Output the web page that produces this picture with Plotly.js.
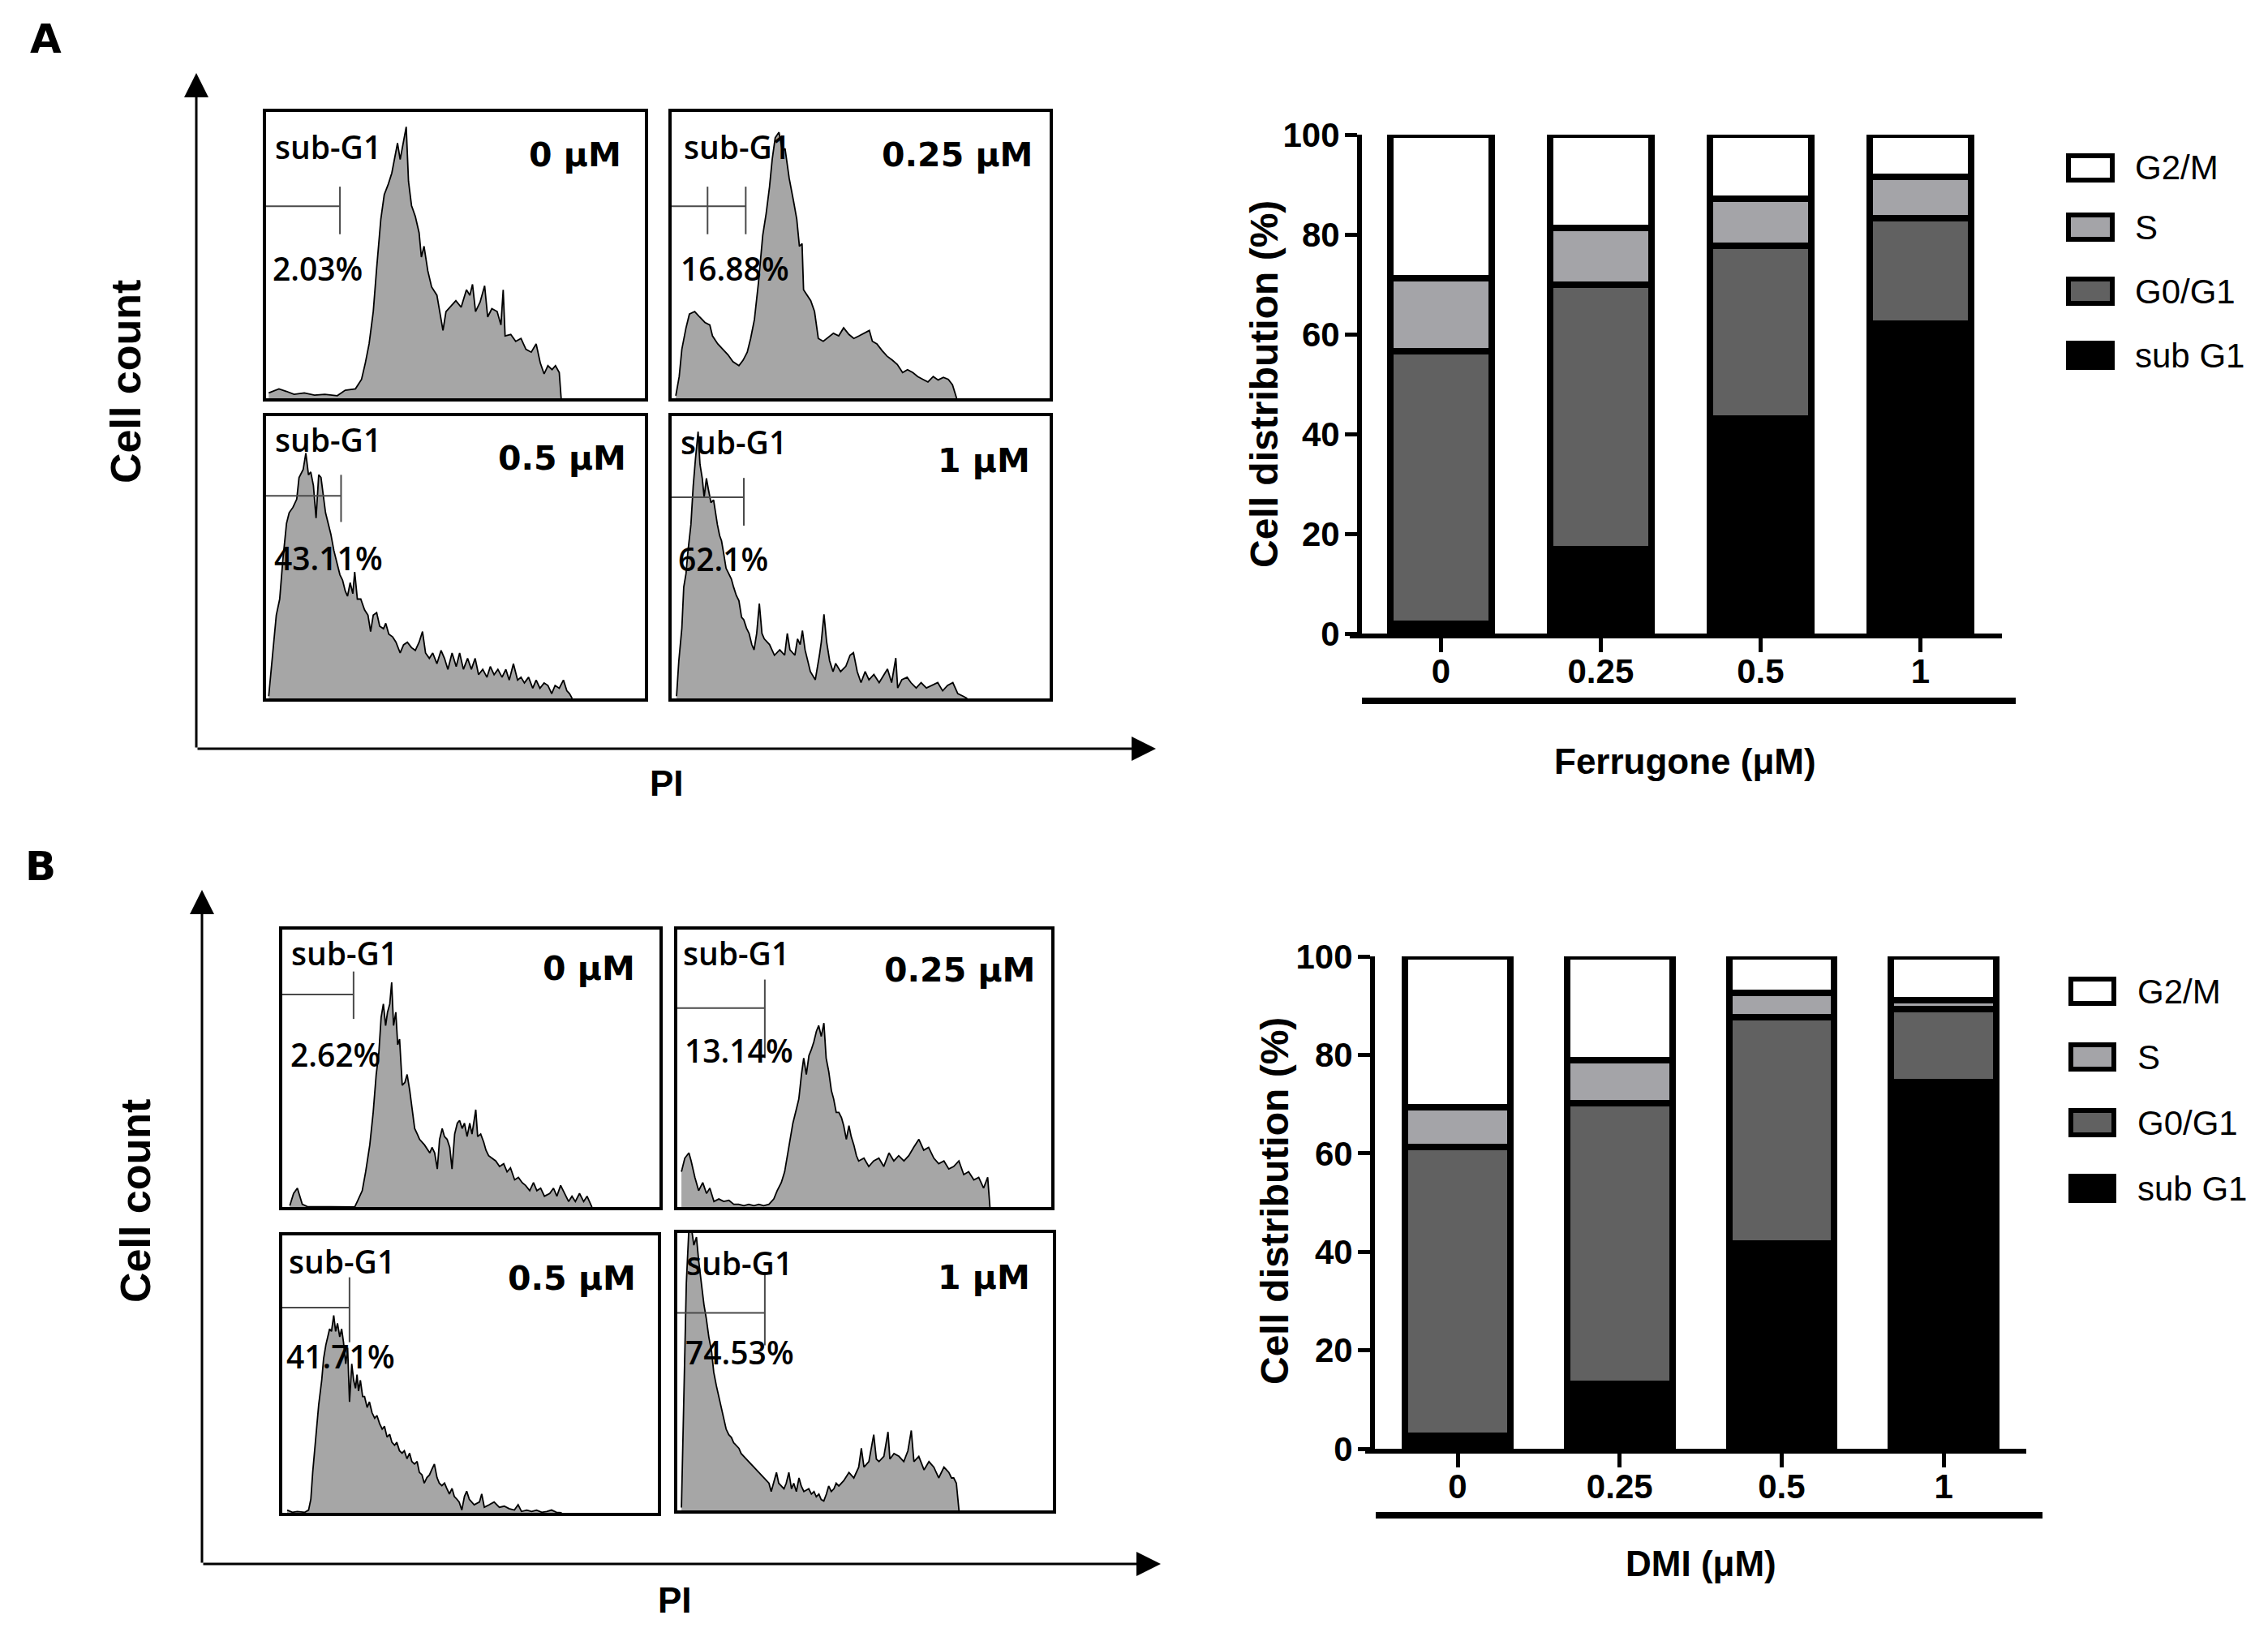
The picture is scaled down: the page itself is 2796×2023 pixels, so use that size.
<!DOCTYPE html>
<html>
<head>
<meta charset="utf-8">
<script src="https://cdn.plot.ly/plotly-3.0.1.min.js"></script>
<style>html,body{margin:0;padding:0;background:#fff;}#chart{width:2796px;height:2023px;}</style>
</head>
<body>
<div id="chart"></div>
<script>
// ---------- DATA ----------
// Flow-cytometry histograms (x: PI channel, 0-100 of the frame; y: cell count, 0-100 of the frame)
const ferr0X = [0.7,3.4,5.4,7.4,10.1,12.8,15.5,18.8,20.9,23.6,25.2,26.2,27.2,28.3,29.2,30.3,31.2,32.3,33.2,34.1,34.7,35.4,36.1,37.0,37.6,38.4,39.4,40.4,41.0,41.7,42.7,43.7,45.1,46.0,46.7,47.5,48.7,50.1,51.5,52.9,53.8,54.5,55.3,56.5,57.7,58.5,59.6,61.0,62.0,62.6,63.1,64.6,65.9,67.3,68.6,70.0,71.3,72.4,73.4,74.4,75.5,76.4,77.4,77.9];
const ferr0Y = [1.9,3.3,2.4,1.4,1.9,1.1,1.4,0.9,2.8,3.3,6.6,12.3,19.0,30.3,45.5,62.6,71.1,74.9,78.7,84.4,89.1,83.4,88.2,94.8,75.8,67.3,63.5,57.8,49.3,53.1,44.5,38.9,36.0,28.4,23.7,30.3,32.2,34.1,31.8,37.9,36.0,39.8,30.3,33.6,39.3,28.4,31.3,30.3,25.6,37.9,21.8,22.3,19.9,20.9,17.1,16.1,19.0,12.3,8.5,11.4,10.0,11.4,9.0,0];
const ferr25X = [1.1,2.0,2.7,3.8,4.7,6.1,7.4,8.8,10.1,10.8,12.2,13.5,14.9,16.2,17.8,18.9,20.0,20.9,21.9,23.0,24.1,25.0,25.9,26.6,27.4,28.4,29.3,30.0,31.1,32.2,33.1,33.8,34.5,34.9,35.8,36.8,37.8,38.8,40.1,41.5,42.8,44.2,45.5,46.9,48.2,49.6,50.9,52.3,53.1,54.3,55.7,57.0,58.4,59.7,61.1,62.4,63.8,65.1,66.5,67.8,69.2,70.5,71.9,73.2,74.3,75.4];
const ferr25Y = [0.9,7.6,17.1,24.6,29.4,30.3,28.4,26.5,25.6,21.8,19.0,17.1,15.2,12.8,11.4,13.3,16.1,20.9,27.5,40.8,56.9,64.5,73.9,83.4,91.0,92.9,86.3,87.2,76.8,69.2,62.6,53.1,54.0,37.9,36.0,34.1,30.3,20.9,19.9,21.3,22.7,21.8,24.6,22.3,20.9,21.8,22.7,23.7,19.9,19.0,16.6,14.7,13.3,11.8,9.0,10.0,9.0,7.6,6.6,5.7,7.6,6.4,7.3,6.6,4.7,0];
const ferr50X = [0.7,1.7,2.7,3.6,4.4,5.4,6.1,7.1,8.1,8.7,9.8,10.5,11.2,11.8,12.5,13.2,13.9,14.5,15.2,15.7,16.4,17.1,17.9,18.8,19.5,20.2,20.9,21.5,22.2,22.9,23.4,24.1,25.0,26.0,26.9,27.6,28.3,29.2,30.0,31.0,31.6,32.4,33.4,34.3,35.4,36.3,37.3,38.4,39.4,40.4,41.3,42.1,43.1,44.0,45.1,46.2,47.1,48.0,49.1,50.2,51.1,52.1,53.2,54.2,55.2,56.1,57.2,58.3,59.2,60.2,61.2,62.3,63.3,64.2,65.3,66.4,67.3,68.2,69.3,70.4,71.3,72.3,73.4,74.4,75.4,76.3,77.4,78.5,79.4,80.1,80.8];
const ferr50Y = [0.8,16.1,29.5,35.2,48.6,62.0,65.8,67.7,70.6,78.2,81.1,86.9,79.2,80.2,75.4,63.9,79.2,78.3,70.6,65.8,62.0,58.2,52.4,47.6,43.8,41.9,38.1,36.2,41.0,37.1,44.8,35.2,35.2,31.4,29.5,23.7,29.5,30.4,25.6,24.7,26.6,22.8,21.8,19.9,16.1,19.0,19.9,18.0,17.0,19.9,23.7,16.1,14.2,16.1,12.3,17.0,14.2,10.3,16.1,11.3,16.1,10.3,14.2,10.3,14.2,8.4,10.3,7.5,11.3,8.4,10.3,7.5,10.3,6.5,12.3,6.5,7.5,5.5,7.5,3.6,6.5,3.6,5.5,4.6,1.7,4.6,3.6,6.5,2.7,1.7,0];
const ferr100X = [1.3,1.9,2.7,3.2,3.8,4.3,5.1,5.7,6.3,7.0,7.5,8.1,8.6,9.2,9.7,10.4,11.1,11.6,12.1,12.7,13.2,13.7,14.4,15.1,15.8,16.4,17.1,17.8,18.5,19.1,19.8,20.5,21.2,21.8,22.5,23.2,23.9,24.5,25.9,27.2,28.6,29.9,30.6,31.3,32.6,33.3,34.0,34.6,35.3,36.7,38.0,39.1,39.6,40.3,41.0,41.8,42.7,43.4,44.7,46.1,47.2,48.1,49.1,50.1,51.2,52.2,53.5,54.9,56.2,57.1,58.2,59.3,59.8,60.9,62.3,63.3,64.7,66.0,67.4,69.0,70.4,71.7,73.0,74.4,75.7,77.1,78.2];
const ferr100Y = [0.8,13.3,24.9,39.4,44.2,51.9,61.6,75.1,84.8,94.5,82.9,78.0,71.3,78.0,74.2,69.4,70.3,65.5,61.6,57.7,55.8,51.9,46.1,44.2,42.3,39.4,36.5,34.6,28.8,27.8,24.9,23.0,19.1,17.2,23.0,33.6,23.0,21.1,19.1,15.3,17.2,15.3,23.0,17.2,15.3,21.1,19.1,24.0,17.2,9.5,6.6,15.3,20.1,29.8,20.1,13.3,9.5,12.4,9.5,11.4,15.3,16.2,9.5,5.6,9.5,6.6,8.5,5.6,8.5,10.4,5.6,14.3,3.7,6.6,7.5,5.6,3.7,5.6,3.7,4.6,5.6,2.7,4.6,5.6,1.7,0.8,0];
const dmi0X = [2.0,3.0,4.0,4.6,5.3,6.6,12.6,19.2,19.9,21.2,22.1,23.2,24.1,24.9,25.6,26.2,26.8,27.4,27.9,28.5,29.0,29.5,30.1,30.6,31.1,31.8,32.5,33.1,33.8,34.4,35.1,35.8,36.4,37.7,39.1,39.7,40.4,41.1,41.7,42.4,43.0,43.7,44.4,45.0,45.7,46.4,47.0,47.7,48.3,49.0,49.7,50.3,51.3,51.8,52.6,53.4,54.0,54.7,55.6,56.6,57.6,58.7,59.6,60.5,61.6,62.6,63.6,64.5,65.6,66.6,67.5,68.5,69.5,70.9,71.9,72.8,73.8,74.8,75.9,76.8,77.7,78.8,79.9,80.8,81.5,82.1];
const dmi0Y = [0.5,4.9,6.8,3.9,1.0,0.2,0,0,2.0,5.9,12.7,22.4,34.1,47.8,55.6,68.3,73.2,65.4,70.2,73.2,81.0,65.4,70.2,58.5,60.5,43.9,44.9,47.8,41.9,35.1,28.3,26.3,24.4,22.4,19.5,21.5,19.5,13.7,24.4,28.3,25.4,24.4,21.5,13.7,26.3,30.2,31.2,28.3,30.2,25.4,30.2,26.3,35.1,25.4,26.3,23.4,20.5,18.5,17.6,16.6,14.6,15.6,12.7,14.1,9.8,10.7,8.8,7.8,5.9,8.8,5.9,6.8,3.9,4.9,6.8,3.9,7.8,4.9,2.0,3.9,2.0,4.9,2.0,3.9,2.0,0];
const dmi25X = [1.1,2.0,3.1,3.7,4.7,5.7,6.8,7.8,8.7,9.8,11.1,12.4,13.8,15.1,16.4,17.8,19.1,20.5,21.8,23.1,24.5,25.8,26.7,27.8,28.7,29.8,30.9,31.8,32.5,33.2,33.8,34.5,35.2,35.8,36.5,37.2,37.8,38.5,39.2,39.8,40.5,41.2,41.8,42.5,43.2,43.9,44.5,45.2,45.9,46.5,47.2,47.9,48.5,49.9,51.2,52.5,53.9,55.2,56.6,57.9,59.2,60.6,61.9,63.2,64.6,65.9,67.2,68.6,69.9,71.3,72.6,73.9,75.3,76.6,77.9,79.3,80.6,81.9,83.0,83.6];
const dmi25Y = [12.7,17.6,19.5,16.6,10.7,5.9,8.8,4.9,6.8,2.0,2.9,2.0,2.4,1.0,1.0,0.5,1.0,0.5,1.0,0.5,1.0,2.9,5.9,8.8,12.7,21.5,30.2,35.1,39.0,47.8,53.7,47.8,54.6,56.6,59.5,63.4,65.4,61.5,66.3,53.7,48.8,42.0,39.0,34.1,34.1,32.2,29.3,24.4,29.3,25.4,22.4,18.5,16.6,17.6,14.6,16.6,17.6,14.6,19.5,16.6,18.5,16.6,18.5,21.5,24.4,20.5,21.5,17.6,15.6,16.6,13.7,14.6,16.6,11.7,12.7,9.8,10.7,6.8,10.7,0];
const dmi50X = [1.3,2.7,4.0,6.0,7.0,7.6,8.1,8.9,9.7,10.5,11.0,11.6,12.1,12.6,13.1,13.7,14.2,14.7,15.3,15.8,16.3,16.9,17.4,17.9,18.5,19.0,19.5,19.9,20.3,20.8,21.4,21.9,22.6,23.2,23.9,24.6,25.2,25.9,26.6,27.2,27.9,28.6,29.2,29.9,30.5,31.2,31.9,32.5,33.2,33.9,34.5,35.2,35.9,36.5,37.2,37.8,38.5,39.2,39.8,40.5,41.2,41.8,42.5,43.2,43.8,44.5,45.2,45.8,46.5,47.1,47.8,48.5,49.1,49.8,51.1,52.5,53.1,53.8,55.1,56.4,57.8,59.1,60.4,61.8,62.8,63.7,65.1,66.4,67.7,69.1,70.4,71.7,73.0,74.4];
const dmi50Y = [1.0,0.2,0.5,0.2,1.0,4.9,14.6,26.3,39.0,47.8,55.6,60.5,63.4,66.3,65.4,71.2,65.4,68.3,63.4,66.3,61.5,53.7,59.5,40.0,53.7,47.8,44.9,49.8,43.9,47.8,41.9,41.9,38.0,40.0,36.1,34.1,35.1,32.2,30.2,31.2,27.3,28.3,25.4,24.4,25.4,22.4,21.5,22.4,19.5,21.5,18.5,17.6,18.5,14.6,13.7,10.7,12.7,13.7,15.6,17.6,12.7,10.7,9.8,10.7,8.8,6.8,8.8,5.9,4.9,3.9,1.0,5.9,7.8,4.9,2.9,3.9,6.8,2.0,2.9,3.9,2.0,2.4,1.5,1.0,2.9,0.5,1.0,0.5,1.0,0.2,0.5,1.0,0.2,0];
const dmi100X = [1.1,1.7,2.4,3.1,3.9,4.4,5.1,5.7,6.4,7.1,7.7,8.4,9.1,9.7,10.4,11.1,11.7,12.4,13.0,13.7,14.4,15.0,15.7,16.4,17.0,17.7,18.4,19.0,19.7,20.4,21.0,21.7,22.4,23.0,23.7,24.4,25.0,25.7,26.4,27.0,27.7,28.4,29.0,29.7,30.4,31.0,31.7,32.4,33.0,33.7,35.0,35.7,36.4,37.0,37.7,38.3,39.0,39.7,40.3,41.0,41.7,42.3,43.0,44.3,45.7,47.0,48.3,49.0,49.7,51.0,52.3,53.0,53.7,55.0,56.1,56.6,57.7,59.0,60.3,61.4,62.3,63.0,64.3,65.7,67.0,68.3,69.6,71.0,72.3,73.0,73.6,74.3,75.0];
const dmi100Y = [1.0,42.9,81.9,102,100.5,95.6,98.5,89.8,81.9,74.1,69.3,62.4,57.6,49.8,44.9,40.9,37.1,33.2,29.3,27.3,26.3,24.4,23.4,22.4,20.5,19.5,18.5,17.6,16.6,15.6,14.6,13.7,12.7,11.7,10.7,9.8,6.8,10.7,13.7,9.8,8.8,7.8,9.8,13.7,7.8,9.8,6.8,11.7,8.8,6.8,7.8,5.9,6.8,4.9,5.9,3.9,3.4,5.9,8.8,6.8,7.8,9.8,8.8,10.7,13.7,11.7,15.6,22.4,15.6,17.6,27.3,18.5,17.6,19.5,28.3,18.5,20.5,19.5,17.6,21.5,28.8,17.6,19.5,14.6,17.6,15.6,11.7,15.6,13.7,11.7,11.7,9.8,0];

// sub-G1 gate markers (frame units)
const gateEndX = [19.5, 19.6, 19.8, 19.1, 18.9, 23.4, 17.9, 23.3];
const gateLevel = [67.1, 67.1, 71.8, 71.3, 76.6, 71.7, 74.0, 71.2];
const gateTop = [73.9, 73.9, 79.2, 78.1, 84.9, 82.0, 84.9, 84.9];
const gateBottom = [57.3, 57.3, 62.5, 61.2, 67.8, 53.7, 61.5, 59.5];
const gateMidX = [null, 9.5, null, null, null, null, null, null];

// labels in each histogram
const doseText = ['0 µM', '0.25 µM', '0.5 µM', '1 µM', '0 µM', '0.25 µM', '0.5 µM', '1 µM'];
const subG1Pct = ['2.03%', '16.88%', '43.11%', '62.1%', '2.62%', '13.14%', '41.71%', '74.53%'];

// Stacked bar charts
const doseLabels = ['0', '0.25', '0.5', '1'];
const phaseNames = ['sub G1', 'G0/G1', 'S', 'G2/M'];
const phaseColors = ['#000000', '#616161', '#a4a4a8', '#ffffff'];
const ferrSubG1 = [2.03, 16.88, 43.11, 62.1];
const ferrG0G1 = [54.5, 53.0, 34.6, 21.1];
const ferrS = [14.7, 11.5, 9.4, 8.4];
const ferrG2M = [28.77, 18.62, 12.89, 8.4];
const dmiSubG1 = [2.62, 13.14, 41.71, 74.53];
const dmiG0G1 = [58.6, 57.1, 46.0, 14.7];
const dmiS = [8.1, 8.6, 4.9, 1.8];
const dmiG2M = [30.68, 21.16, 7.39, 8.97];

// ---------- LAYOUT HELPERS ----------
const W = 2796, H = 2023;
const px = v => v / W;
const py = v => 1 - v / H;
const ARIAL = 'Liberation Sans, Arial, sans-serif';
const HFONT = 'DejaVu Sans, Verdana, sans-serif';
const LFONT = 'Open Sans, DejaVu Sans, sans-serif';

const histXs = [ferr0X, ferr25X, ferr50X, ferr100X, dmi0X, dmi25X, dmi50X, dmi100X];
const histYs = [ferr0Y, ferr25Y, ferr50Y, ferr100Y, dmi0Y, dmi25Y, dmi50Y, dmi100Y];
// frame boxes in pixels [left, right, top, bottom]
const boxes = [
  [328, 795, 138, 491], [828, 1294, 138, 491],
  [328, 795, 513, 861], [828, 1294, 513, 861],
  [348, 813, 1146, 1488], [835, 1296, 1146, 1488],
  [348, 811, 1523, 1865], [835, 1298, 1520, 1862]
];
const subPos = [[2,88],[2.7,88],[2,91.7],[1.9,91],[2,91.7],[1.1,91.7],[1.3,90.7],[2,89.3]];
const dosePos = [[94.2,85],[96,85],[95.6,85],[95.3,84.3],[94,85.9],[96,85.4],[94.7,84.4],[94.3,83.9]];
const pctPos = [[1.3,45.5],[2,45.5],[1.8,50],[1.3,49.6],[1.7,55.1],[1.5,56.6],[0.7,56.6],[1.7,57.1]];

const data = [];
const layout = {
  width: W, height: H,
  margin: {l: 0, r: 0, t: 0, b: 0},
  paper_bgcolor: '#ffffff', plot_bgcolor: 'rgba(0,0,0,0)',
  showlegend: false,
  annotations: [], shapes: []
};

for (let i = 0; i < 8; i++) {
  const n = i + 1;
  const xr = n === 1 ? 'x' : 'x' + n;
  const yr = n === 1 ? 'y' : 'y' + n;
  const b = boxes[i];
  layout[n === 1 ? 'xaxis' : 'xaxis' + n] = {
    domain: [px(b[0]), px(b[1])], range: [0, 100], anchor: yr,
    showgrid: false, zeroline: false, showticklabels: false, ticks: '',
    showline: true, mirror: true, linecolor: '#000', linewidth: 4, fixedrange: true
  };
  layout[n === 1 ? 'yaxis' : 'yaxis' + n] = {
    domain: [py(b[3]), py(b[2])], range: [0, 100], anchor: xr,
    showgrid: false, zeroline: false, showticklabels: false, ticks: '',
    showline: true, mirror: true, linecolor: '#000', linewidth: 4, fixedrange: true
  };
  data.push({
    type: 'scatter', mode: 'lines', x: histXs[i], y: histYs[i], xaxis: xr, yaxis: yr,
    fill: 'tozeroy', fillcolor: '#a6a6a6', line: {color: '#000', width: 1.8},
    hoverinfo: 'skip'
  });
  const gx = [0, gateEndX[i], null, gateEndX[i], gateEndX[i]];
  const gy = [gateLevel[i], gateLevel[i], null, gateTop[i], gateBottom[i]];
  if (gateMidX[i] !== null) { gx.push(null, gateMidX[i], gateMidX[i]); gy.push(null, gateTop[i], gateBottom[i]); }
  data.push({
    type: 'scatter', mode: 'lines', x: gx, y: gy, xaxis: xr, yaxis: yr,
    line: {color: '#4a4a4a', width: 2}, hoverinfo: 'skip', connectgaps: false
  });
  layout.annotations.push(
    {xref: xr, yref: yr, x: subPos[i][0], y: subPos[i][1], text: 'sub-G1', showarrow: false,
     xanchor: 'left', yanchor: 'middle', font: {family: LFONT, size: 39, color: '#000', weight: 600}},
    {xref: xr, yref: yr, x: dosePos[i][0], y: dosePos[i][1], text: doseText[i], showarrow: false,
     xanchor: 'right', yanchor: 'middle', font: {family: HFONT, size: 41, color: '#000', weight: 'bold'}},
    {xref: xr, yref: yr, x: pctPos[i][0], y: pctPos[i][1], text: subG1Pct[i], showarrow: false,
     xanchor: 'left', yanchor: 'middle', font: {family: LFONT, size: 39, color: '#000', weight: 600}}
  );
}

// ---------- BAR CHARTS ----------
const barSets = [
  {vals: [ferrSubG1, ferrG0G1, ferrS, ferrG2M], n: 9, xdom: [1664, 2468], ypos: 1676, ybot: 781, ytop: 166,
   range: [-0.57, 3.51], width: 0.635},
  {vals: [dmiSubG1, dmiG0G1, dmiS, dmiG2M], n: 10, xdom: [1683, 2498], ypos: 1692, ybot: 1786, ytop: 1179,
   range: [-0.571, 3.51], width: 0.65}
];
barSets.forEach(s => {
  const xr = 'x' + s.n, yr = 'y' + s.n;
  s.vals.forEach((v, k) => {
    data.push({
      type: 'bar', x: [0, 1, 2, 3], y: v, xaxis: xr, yaxis: yr, name: phaseNames[k],
      width: s.width, cliponaxis: false,
      marker: {color: phaseColors[k], line: {color: '#000', width: 8}}, hoverinfo: 'skip'
    });
  });
  layout['xaxis' + s.n] = {
    domain: [px(s.xdom[0]), px(s.xdom[1])], range: s.range, anchor: yr,
    showgrid: false, zeroline: false, showline: true, linecolor: '#000', linewidth: 6,
    ticks: 'outside', ticklen: 17, tickwidth: 5, tickcolor: '#000',
    tickvals: [0, 1, 2, 3], ticktext: doseLabels, ticklabelstandoff: -12,
    tickfont: {family: ARIAL, size: 42, color: '#000', weight: 'bold'}, fixedrange: true
  };
  layout['yaxis' + s.n] = {
    domain: [py(s.ybot), py(s.ytop)], range: [0, 100], anchor: 'free', position: px(s.ypos),
    showgrid: false, zeroline: false, showline: true, linecolor: '#000', linewidth: 6,
    ticks: 'outside', ticklen: 15, tickwidth: 5, tickcolor: '#000',
    tickvals: [0, 20, 40, 60, 80, 100], ticklabelstandoff: -2,
    tickfont: {family: ARIAL, size: 42, color: '#000', weight: 'bold'}, fixedrange: true
  };
});
layout.barmode = 'stack';
layout.bargap = 0.3;

// thick bars under tick labels
layout.shapes.push(
  {type: 'line', xref: 'paper', yref: 'paper', x0: px(1679), x1: px(2485), y0: py(864), y1: py(864), line: {color: '#000', width: 8}},
  {type: 'line', xref: 'paper', yref: 'paper', x0: px(1696), x1: px(2518), y0: py(1868), y1: py(1868), line: {color: '#000', width: 8}}
);

// legends (drawn top to bottom: G2/M, S, G0/G1, sub G1)
const legendSets = [
  {x0: 2550, x1: 2604, tx: 2630, ys: [207, 280, 359, 438]},
  {x0: 2553, x1: 2606, tx: 2633, ys: [1222, 1303, 1384, 1465]}
];
legendSets.forEach(L => {
  [3, 2, 1, 0].forEach((k, j) => {
    layout.shapes.push({type: 'rect', xref: 'paper', yref: 'paper',
      x0: px(L.x0), x1: px(L.x1), y0: py(L.ys[j] + 15), y1: py(L.ys[j] - 15),
      fillcolor: phaseColors[k], line: {color: '#000', width: 6}});
    layout.annotations.push({xref: 'paper', yref: 'paper', x: px(L.tx), y: py(L.ys[j]), text: phaseNames[k],
      showarrow: false, xanchor: 'left', yanchor: 'middle', font: {family: ARIAL, size: 42, color: '#000'}});
  });
});

// ---------- TITLES / LABELS ----------
const ann = layout.annotations;
ann.push(
  {xref: 'paper', yref: 'paper', x: px(56), y: py(48), text: 'A', showarrow: false, xanchor: 'center', yanchor: 'middle', font: {family: HFONT, size: 50, color: '#000', weight: 'bold'}},
  {xref: 'paper', yref: 'paper', x: px(50), y: py(1068), text: 'B', showarrow: false, xanchor: 'center', yanchor: 'middle', font: {family: HFONT, size: 50, color: '#000', weight: 'bold'}},
  {xref: 'paper', yref: 'paper', x: px(155), y: py(471), text: 'Cell count', textangle: -90, showarrow: false, xanchor: 'center', yanchor: 'middle', font: {family: ARIAL, size: 52, color: '#000', weight: 'bold'}},
  {xref: 'paper', yref: 'paper', x: px(167), y: py(1481), text: 'Cell count', textangle: -90, showarrow: false, xanchor: 'center', yanchor: 'middle', font: {family: ARIAL, size: 52, color: '#000', weight: 'bold'}},
  {xref: 'paper', yref: 'paper', x: px(822), y: py(965), text: 'PI', showarrow: false, xanchor: 'center', yanchor: 'middle', font: {family: ARIAL, size: 44, color: '#000', weight: 'bold'}},
  {xref: 'paper', yref: 'paper', x: px(832), y: py(1972), text: 'PI', showarrow: false, xanchor: 'center', yanchor: 'middle', font: {family: ARIAL, size: 44, color: '#000', weight: 'bold'}},
  {xref: 'paper', yref: 'paper', x: px(1558), y: py(474), text: 'Cell distribution (%)', textangle: -90, showarrow: false, xanchor: 'center', yanchor: 'middle', font: {family: ARIAL, size: 48, color: '#000', weight: 'bold'}},
  {xref: 'paper', yref: 'paper', x: px(1571), y: py(1481), text: 'Cell distribution (%)', textangle: -90, showarrow: false, xanchor: 'center', yanchor: 'middle', font: {family: ARIAL, size: 48, color: '#000', weight: 'bold'}},
  {xref: 'paper', yref: 'paper', x: px(2077), y: py(938), text: 'Ferrugone (μM)', showarrow: false, xanchor: 'center', yanchor: 'middle', font: {family: ARIAL, size: 44, color: '#000', weight: 'bold'}},
  {xref: 'paper', yref: 'paper', x: px(2097), y: py(1927), text: 'DMI (μM)', showarrow: false, xanchor: 'center', yanchor: 'middle', font: {family: ARIAL, size: 44, color: '#000', weight: 'bold'}}
);
// axis arrows for histogram panels
const arrows = [
  {ox: 242, oy: 923, top: 90, right: 1425},
  {ox: 249, oy: 1928, top: 1097, right: 1431}
];
arrows.forEach(a => {
  ann.push(
    {xref: 'paper', yref: 'paper', x: px(a.ox), y: py(a.top), ax: 0, ay: a.oy - a.top, axref: 'pixel', ayref: 'pixel',
     text: '', showarrow: true, arrowhead: 2, arrowsize: 2, arrowwidth: 3, arrowcolor: '#000', standoff: 0, startstandoff: 0},
    {xref: 'paper', yref: 'paper', x: px(a.right), y: py(a.oy), ax: -(a.right - a.ox), ay: 0, axref: 'pixel', ayref: 'pixel',
     text: '', showarrow: true, arrowhead: 2, arrowsize: 2, arrowwidth: 3, arrowcolor: '#000', standoff: 0, startstandoff: 0}
  );
});

Plotly.newPlot('chart', data, layout, {staticPlot: true, displayModeBar: false});
</script>
</body>
</html>
